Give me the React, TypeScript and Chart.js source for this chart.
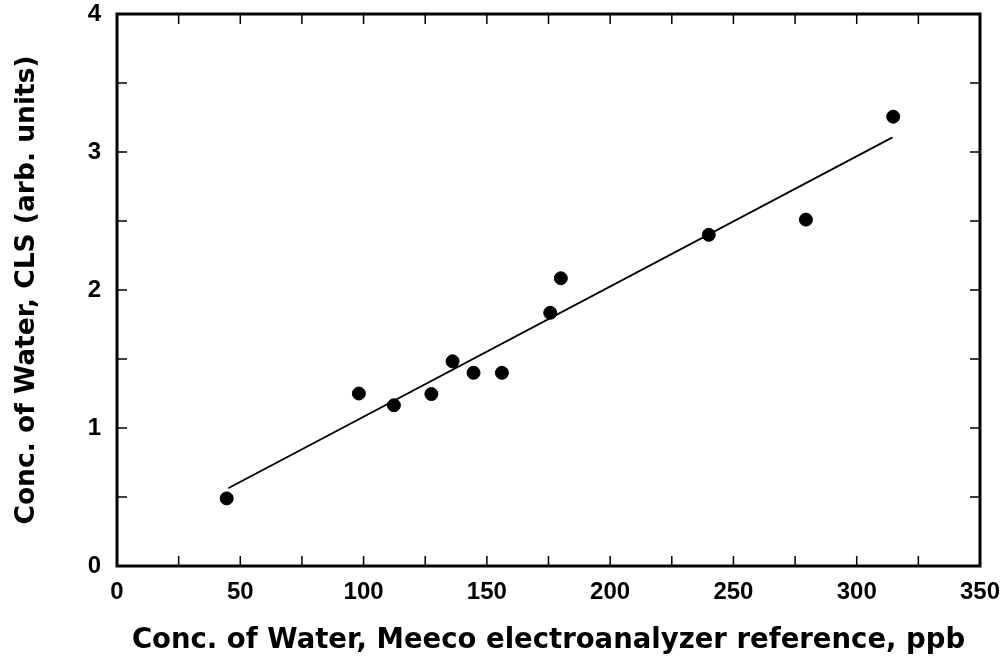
import React, { useEffect, useRef } from "react";
import { Chart, registerables } from "chart.js";

Chart.register(...registerables);

// Data
const meecoPpb: number[] = [44.5, 98.1, 112.3, 127.5, 136.1, 144.6, 156.1, 175.7, 180.0, 240.0, 279.4, 314.8];
const clsUnits: number[] = [0.49, 1.25, 1.165, 1.246, 1.483, 1.40, 1.40, 1.835, 2.085, 2.40, 2.51, 3.256];
const fitX: number[] = [45.1, 314.5];
const fitY: number[] = [0.563, 3.106];

const xTickValues: number[] = [0, 50, 100, 150, 200, 250, 300, 350];
const yTickValues: number[] = [0, 1, 2, 3, 4];
const xMinorStep = 25;
const yMinorStep = 0.5;

const FONT = "'Liberation Sans', Arial, Helvetica, sans-serif";
const TITLE_FONT = "'DejaVu Sans', 'Liberation Sans', Arial, sans-serif";

const framePlugin = {
  id: "frameTicks",
  afterDraw(chart: any) {
    const { ctx, chartArea } = chart;
    const xs = chart.scales.x;
    const ys = chart.scales.y;
    const { left, right, top, bottom } = chartArea;
    ctx.save();
    ctx.strokeStyle = "#000";
    ctx.lineWidth = 1.5;
    const tl = 10;
    for (let v = xs.min; v <= xs.max + 1e-9; v += xMinorStep) {
      const px = xs.getPixelForValue(v);
      ctx.beginPath();
      ctx.moveTo(px, bottom);
      ctx.lineTo(px, bottom - tl);
      ctx.moveTo(px, top);
      ctx.lineTo(px, top + tl);
      ctx.stroke();
    }
    for (let v = ys.min; v <= ys.max + 1e-9; v += yMinorStep) {
      const py = ys.getPixelForValue(v);
      ctx.beginPath();
      ctx.moveTo(left, py);
      ctx.lineTo(left + tl, py);
      ctx.moveTo(right, py);
      ctx.lineTo(right - tl, py);
      ctx.stroke();
    }
    ctx.lineWidth = 3;
    ctx.strokeRect(left, top, right - left, bottom - top);
    ctx.restore();
  },
};

export default function App() {
  const ref = useRef<HTMLCanvasElement | null>(null);

  useEffect(() => {
    if (!ref.current) return;
    const chart = new Chart(ref.current, {
      type: "scatter",
      data: {
        datasets: [
          {
            type: "scatter",
            data: meecoPpb.map((x, i) => ({ x, y: clsUnits[i] })),
            backgroundColor: "#000",
            borderColor: "#000",
            pointRadius: 6.5,
            pointHoverRadius: 6.5,
          },
          {
            type: "line",
            data: fitX.map((x, i) => ({ x, y: fitY[i] })),
            borderColor: "#000",
            borderWidth: 1.8,
            pointRadius: 0,
            fill: false,
          } as any,
        ],
      },
      plugins: [framePlugin],
      options: {
        animation: false,
        responsive: false,
        events: [],
        layout: { padding: { top: 14, right: 24, left: 0, bottom: 0 } },
        plugins: { legend: { display: false }, tooltip: { enabled: false } },
        scales: {
          x: {
            type: "linear",
            min: 0,
            max: 350,
            afterBuildTicks: (s: any) => {
              s.ticks = xTickValues.map((v) => ({ value: v }));
            },
            afterFit: (s: any) => {
              s.height = 94;
              s.paddingLeft = 0;
              s.paddingRight = 0;
            },
            grid: { display: false },
            border: { display: false },
            ticks: {
              color: "#000",
              font: { family: FONT, size: 24, weight: "bold" },
              padding: 4,
              maxRotation: 0,
            },
            title: {
              display: true,
              text: "Conc. of Water, Meeco electroanalyzer reference, ppb",
              color: "#000",
              font: { family: TITLE_FONT, size: 27.5, weight: "bold" },
              padding: { top: 0, bottom: 3 },
            },
          },
          y: {
            type: "linear",
            min: 0,
            max: 4,
            afterBuildTicks: (s: any) => {
              s.ticks = yTickValues.map((v) => ({ value: v }));
            },
            afterFit: (s: any) => {
              s.width = 117;
              s.paddingTop = 0;
              s.paddingBottom = 0;
            },
            grid: { display: false },
            border: { display: false },
            ticks: {
              color: "#000",
              font: { family: FONT, size: 24, weight: "bold" },
              padding: 8,
            },
            title: {
              display: true,
              text: "Conc. of Water, CLS (arb. units)",
              color: "#000",
              font: { family: TITLE_FONT, size: 26.5, weight: "bold" },
              padding: { top: 11, bottom: 0 },
            },
          },
        },
      },
    });
    return () => chart.destroy();
  }, []);

  return (
    <div style={{ position: "absolute", left: 0, top: 0, width: 1004, height: 660, background: "#fff" }}>
      <canvas ref={ref} width={1004} height={660} />
    </div>
  );
}
